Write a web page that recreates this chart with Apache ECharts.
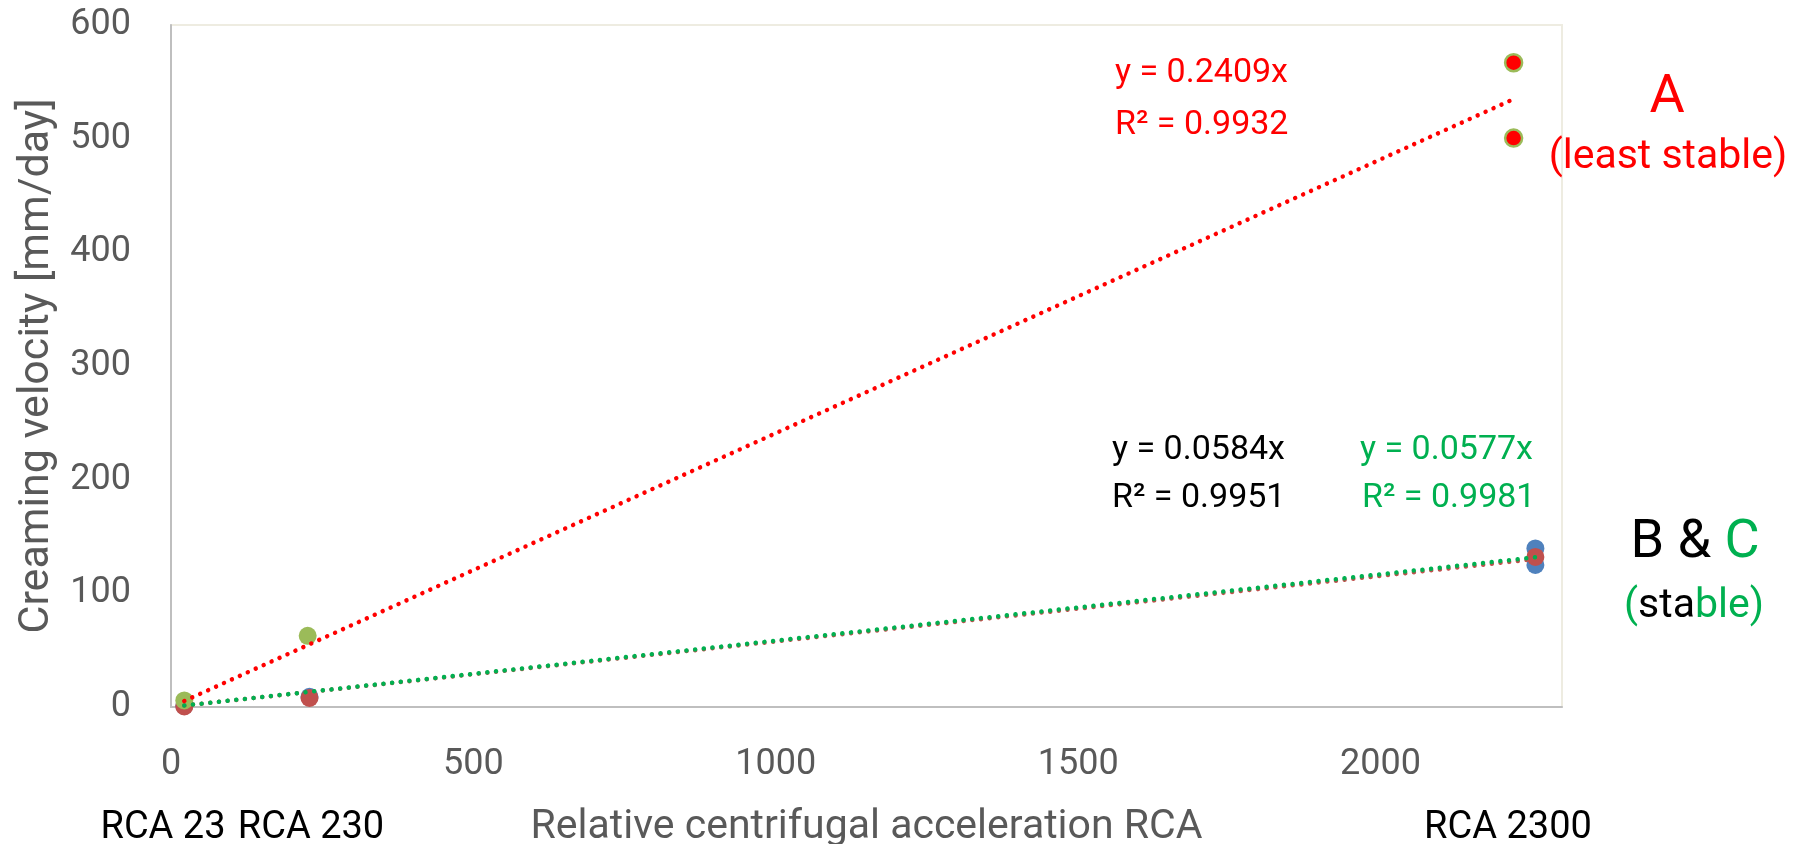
<!DOCTYPE html>
<html>
<head>
<meta charset="utf-8">
<script src="https://cdn.jsdelivr.net/npm/echarts@6/dist/echarts.min.js"></script>
<style>html,body{margin:0;padding:0;background:#fff;}#c{width:1809px;height:844px;}</style>
</head>
<body>
<div id="c"></div>
<script>
// ---- data ----
const aX = [22, 226, 2220, 2220];
const aY = [5.8, 62.6, 566.8, 500.5];
const bX = [22, 229, 2256, 2256];
const bY = [1, 9, 139.5, 125];
const cX = [22, 229, 2256];
const cY = [0.5, 8, 132];
const slopeA = 0.2409;
const slopeB = 0.0584;
const slopeC = 0.0577;
const xTicks = [0, 500, 1000, 1500, 2000];
const yTicks = [0, 100, 200, 300, 400, 500, 600];
const labelA = ['y = 0.2409x', 'R² = 0.9932'];
const labelB = ['y = 0.0584x', 'R² = 0.9951'];
const labelC = ['y = 0.0577x', 'R² = 0.9981'];
const rcaLabels = ['RCA 23', 'RCA 230', 'RCA 2300'];

const pairs = (xs, ys) => xs.map((x, i) => [x, ys[i]]);
const trend = (xs, k) => {
  const lo = Math.min(...xs), hi = Math.max(...xs);
  return [[lo, k * lo], [hi, k * hi]];
};

const chart = echarts.init(document.getElementById('c'), null, {renderer: 'canvas'});
const dotted = (color) => ({color: color, width: 4.5, type: [0.01, 8.7], cap: 'round'});
const F = 'Roboto';

const aData = pairs(aX, aY).map((p, i) => i >= 2
  ? {value: p, symbolSize: 17, itemStyle: {color: '#FF0000', borderColor: '#9BBB59', borderWidth: 2.5}}
  : {value: p});

chart.setOption({
  animation: false,
  backgroundColor: '#ffffff',
  grid: {left: 171, top: 25, right: 247, bottom: 137, show: true, borderColor: '#EEECE1', borderWidth: 2, backgroundColor: '#fff',
    containLabel: false, outerBoundsMode: 'none'},
  xAxis: {
    type: 'value', min: 0, max: 2300, interval: 500,
    name: 'Relative centrifugal acceleration RCA', nameLocation: 'middle', nameGap: 100,
    nameTextStyle: {fontFamily: F, fontSize: 41, color: '#595959'},
    axisLine: {show: true, lineStyle: {color: '#BFBFBF', width: 2}},
    axisTick: {show: false}, splitLine: {show: false},
    axisLabel: {fontFamily: F, fontSize: 36, color: '#595959', margin: 40, showMaxLabel: false,
      formatter: v => xTicks.includes(v) ? String(v) : ''}
  },
  yAxis: {
    type: 'value', min: 0, max: 600, interval: 100,
    name: 'Creaming velocity [mm/day]', nameLocation: 'middle', nameGap: 112,
    nameTextStyle: {fontFamily: F, fontSize: 43, color: '#595959'},
    axisLine: {show: true, lineStyle: {color: '#BFBFBF', width: 2}},
    axisTick: {show: false}, splitLine: {show: false},
    axisLabel: {fontFamily: F, fontSize: 36, color: '#595959', margin: 40,
      formatter: v => yTicks.includes(v) ? String(v) : ''}
  },
  series: [
    {type: 'scatter', name: 'B', data: pairs(bX, bY), symbolSize: 18, itemStyle: {color: '#4F81BD', opacity: 1}, z: 2},
    {type: 'scatter', name: 'C', data: pairs(cX, cY), symbolSize: 18, itemStyle: {color: '#C0504D', opacity: 1}, z: 3},
    {type: 'scatter', name: 'A', data: aData, symbolSize: 18, itemStyle: {color: '#9BBB59', opacity: 1}, z: 4},
    {type: 'line', name: 'trendC', data: trend(cX, slopeC), showSymbol: false, symbol: 'none', lineStyle: dotted('#C0504D'), z: 5, silent: true},
    {type: 'line', name: 'trendB', data: trend(bX, slopeB), showSymbol: false, symbol: 'none', lineStyle: dotted('#00B050'), z: 6, silent: true},
    {type: 'line', name: 'trendA', data: trend(aX, slopeA), showSymbol: false, symbol: 'none', lineStyle: dotted('#FF0000'), z: 7, silent: true}
  ],
  graphic: [
    {type: 'text', x: 1115, y: 73, style: {text: labelA[0], fill: '#FF0000', font: '34px Roboto', textVerticalAlign: 'middle'}},
    {type: 'text', x: 1115, y: 125, style: {text: labelA[1], fill: '#FF0000', font: '34px Roboto', textVerticalAlign: 'middle'}},
    {type: 'text', x: 1112, y: 450, style: {text: labelB[0], fill: '#000000', font: '34px Roboto', textVerticalAlign: 'middle'}},
    {type: 'text', x: 1112, y: 498, style: {text: labelB[1], fill: '#000000', font: '34px Roboto', textVerticalAlign: 'middle'}},
    {type: 'text', x: 1360, y: 450, style: {text: labelC[0], fill: '#00B050', font: '34px Roboto', textVerticalAlign: 'middle'}},
    {type: 'text', x: 1362, y: 498, style: {text: labelC[1], fill: '#00B050', font: '34px Roboto', textVerticalAlign: 'middle'}},
    {type: 'text', x: 1667, y: 98, style: {text: 'A', fill: '#FF0000', font: '54px Roboto', textAlign: 'center', textVerticalAlign: 'middle'}},
    {type: 'text', x: 1668, y: 158, style: {text: '(least stable)', fill: '#FF0000', font: '41px Roboto', textAlign: 'center', textVerticalAlign: 'middle'}},
    {type: 'text', x: 1695, y: 543, style: {text: '{k|B & }{g|C}', font: '54px Roboto', textAlign: 'center', textVerticalAlign: 'middle',
      rich: {k: {fill: '#000000', font: '54px Roboto'}, g: {fill: '#00B050', font: '54px Roboto'}}}},
    {type: 'text', x: 1694, y: 607, style: {text: '{g|(}{k|sta}{g|ble)}', font: '41px Roboto', textAlign: 'center', textVerticalAlign: 'middle',
      rich: {k: {fill: '#000000', font: '41px Roboto'}, g: {fill: '#00B050', font: '41px Roboto'}}}},
    {type: 'text', x: 163, y: 828, style: {text: rcaLabels[0], fill: '#000000', font: '38px Roboto', textAlign: 'center', textVerticalAlign: 'middle'}},
    {type: 'text', x: 311, y: 828, style: {text: rcaLabels[1], fill: '#000000', font: '38px Roboto', textAlign: 'center', textVerticalAlign: 'middle'}},
    {type: 'text', x: 1508, y: 828, style: {text: rcaLabels[2], fill: '#000000', font: '38px Roboto', textAlign: 'center', textVerticalAlign: 'middle'}}
  ]
});
</script>
</body>
</html>
